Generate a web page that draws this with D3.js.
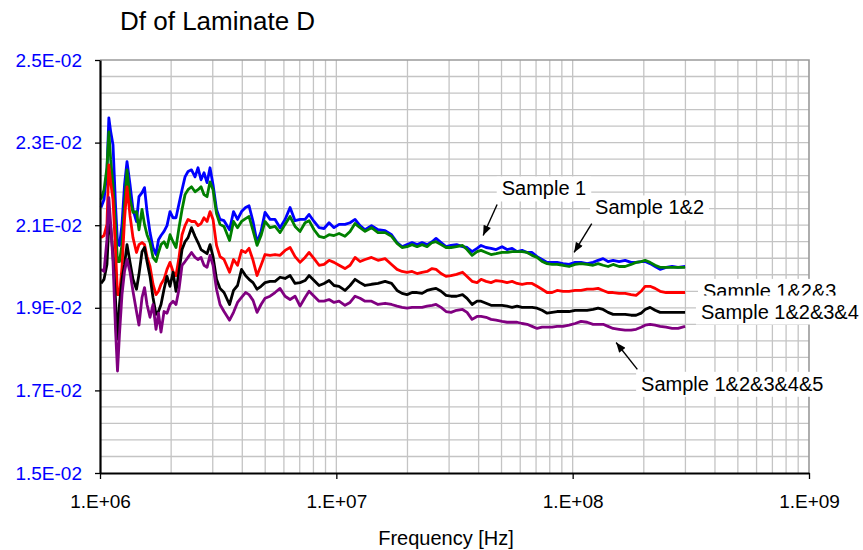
<!DOCTYPE html>
<html>
<head>
<meta charset="utf-8">
<script src="https://cdn.jsdelivr.net/npm/d3@7"></script>
<style>
  html, body { margin: 0; padding: 0; background: #fff; }
  svg { display: block; font-family: "Liberation Sans", Arial, sans-serif; }
</style>
</head>
<body>
<svg id="chart" width="863" height="550"></svg>
<script>
// Measurement frequencies, MHz
const freqMHz = [
  1.01,1.04,1.07,1.09,1.11,1.135,1.163,1.186,1.209,1.239,
  1.27,1.301,1.34,1.379,1.427,1.462,1.506,1.543,1.581,1.628,
  1.676,1.726,1.768,1.812,1.866,1.921,1.978,2.037,2.097,2.159,
  2.224,2.29,2.358,2.439,2.524,2.599,2.676,2.755,2.837,2.921,
  3.008,3.112,3.22,3.348,3.533,3.673,3.819,3.971,4.129,4.272,
  4.442,4.619,4.802,4.993,5.243,5.504,5.779,6.068,6.371,6.689,
  7.023,7.373,7.667,8.049,8.451,8.873,9.316,9.778,10.27,10.88,
  11.43,12.0,12.6,13.23,14.09,15.01,16.08,17.13,18.07,18.97,
  19.92,20.92,21.96,23.06,24.21,25.41,26.42,27.74,29.12,30.58,
  32.26,34.2,35.74,37.52,39.39,40.96,43.01,45.15,47.41,50.27,
  52.78,55.42,58.19,61.1,64.14,67.34,70.7,74.23,77.94,81.83,
  85.92,91.08,96.55,102.4,108.5,115.1,122.0,128.1,134.5,141.2,
  148.3,157.2,166.7,176.7,185.5,194.8,202.5,212.6,223.3,234.4,
  248.5,263.5,279.3,299
];

// Dissipation factor, in units of 1E-02
const dfSample1 = [
  2.143,2.162,2.230,2.360,2.326,2.295,2.150,2.058,2.051,2.102,
  2.198,2.254,2.198,2.138,2.109,2.169,2.179,2.191,2.133,2.082,
  2.046,2.029,2.065,2.075,2.085,2.099,2.133,2.118,2.118,2.152,
  2.186,2.217,2.230,2.234,2.217,2.239,2.210,2.227,2.203,2.239,
  2.198,2.138,2.114,2.111,2.089,2.133,2.114,2.133,2.143,2.147,
  2.109,2.058,2.085,2.131,2.114,2.114,2.094,2.114,2.143,2.111,
  2.114,2.114,2.126,2.109,2.094,2.092,2.106,2.094,2.102,2.102,
  2.106,2.114,2.099,2.089,2.099,2.089,2.087,2.077,2.058,2.048,
  2.053,2.058,2.053,2.058,2.053,2.060,2.068,2.058,2.048,2.051,
  2.053,2.048,2.046,2.036,2.044,2.051,2.046,2.044,2.041,2.048,
  2.041,2.044,2.036,2.039,2.034,2.034,2.024,2.017,2.010,2.010,
  2.010,2.007,2.005,2.010,2.010,2.007,2.010,2.015,2.019,2.012,
  2.015,2.012,2.015,2.010,2.010,2.012,2.012,2.007,2.000,1.993,
  1.998,2.000,1.998,2.000
];
const dfSample12 = [
  2.162,2.186,2.239,2.326,2.258,2.196,2.099,2.012,2.012,2.053,
  2.150,2.234,2.162,2.131,2.133,2.089,2.138,2.102,2.077,2.058,
  2.022,2.012,2.034,2.053,2.060,2.046,2.077,2.060,2.046,2.094,
  2.138,2.174,2.186,2.193,2.181,2.186,2.193,2.174,2.169,2.205,
  2.186,2.128,2.102,2.097,2.063,2.109,2.094,2.109,2.116,2.121,
  2.087,2.051,2.075,2.109,2.094,2.097,2.082,2.102,2.121,2.097,
  2.085,2.106,2.111,2.089,2.073,2.070,2.077,2.075,2.080,2.073,
  2.085,2.104,2.094,2.085,2.094,2.082,2.082,2.073,2.056,2.046,
  2.048,2.053,2.048,2.053,2.048,2.058,2.060,2.053,2.046,2.046,
  2.048,2.051,2.041,2.027,2.036,2.039,2.034,2.029,2.031,2.034,
  2.034,2.036,2.036,2.036,2.034,2.027,2.022,2.012,2.007,2.005,
  2.005,2.003,2.000,2.005,2.007,2.005,2.003,2.007,2.003,2.000,
  2.005,2.000,2.000,2.005,2.010,2.012,2.015,2.010,2.003,1.998,
  1.998,1.998,1.998,1.998
];
const dfSample123 = [
  2.070,2.075,2.102,2.246,2.203,2.162,2.041,1.932,1.932,1.998,
  2.114,2.193,2.123,2.070,2.034,2.053,2.058,2.053,2.024,2.000,
  1.957,1.932,1.940,1.957,1.969,1.993,2.010,1.988,1.978,2.022,
  2.077,2.099,2.114,2.109,2.109,2.099,2.104,2.118,2.109,2.133,
  2.114,2.051,2.024,2.017,1.986,2.017,2.003,2.039,2.034,2.044,
  2.015,1.978,2.003,2.029,2.027,2.029,2.027,2.039,2.046,2.024,
  2.010,2.022,2.034,2.019,2.003,2.005,2.015,2.010,2.003,1.995,
  2.003,2.022,2.012,2.017,2.022,2.015,2.019,2.005,1.993,1.988,
  1.986,1.988,1.983,1.986,1.988,1.995,1.993,1.983,1.976,1.978,
  1.981,1.986,1.976,1.964,1.961,1.969,1.964,1.961,1.966,1.964,
  1.961,1.964,1.959,1.957,1.959,1.959,1.952,1.945,1.937,1.937,
  1.942,1.940,1.940,1.942,1.942,1.945,1.945,1.947,1.942,1.937,
  1.937,1.935,1.935,1.932,1.930,1.940,1.952,1.952,1.947,1.940,
  1.937,1.937,1.937,1.937
];
const dfSample1234 = [
  1.959,1.969,2.005,2.102,2.094,2.029,1.920,1.824,1.908,1.969,
  2.005,2.053,2.010,1.969,1.945,1.981,2.036,2.046,2.012,1.976,
  1.925,1.884,1.891,1.908,1.945,1.976,1.952,1.986,1.940,1.988,
  2.041,2.060,2.070,2.094,2.073,2.058,2.041,2.036,2.031,2.053,
  2.024,1.969,1.947,1.937,1.908,1.942,1.954,1.993,1.978,1.969,
  1.961,1.945,1.952,1.961,1.964,1.964,1.974,1.971,1.978,1.959,
  1.961,1.966,1.978,1.966,1.954,1.959,1.966,1.954,1.952,1.942,
  1.954,1.969,1.961,1.954,1.957,1.959,1.964,1.959,1.942,1.935,
  1.932,1.937,1.937,1.935,1.942,1.945,1.947,1.940,1.930,1.928,
  1.928,1.932,1.923,1.908,1.916,1.916,1.911,1.906,1.906,1.906,
  1.904,1.901,1.904,1.901,1.901,1.901,1.899,1.894,1.887,1.889,
  1.891,1.891,1.891,1.894,1.894,1.894,1.896,1.899,1.896,1.889,
  1.884,1.884,1.884,1.882,1.882,1.887,1.896,1.901,1.894,1.889,
  1.889,1.889,1.889,1.889
];
const dfSample12345 = [
  1.993,1.988,2.065,2.167,2.102,2.012,1.848,1.747,1.836,1.932,
  1.988,2.017,1.986,1.940,1.891,1.858,1.925,1.949,1.908,1.877,
  1.908,1.848,1.887,1.841,1.891,1.887,1.908,1.916,1.908,1.945,
  2.003,2.012,2.022,2.034,2.022,2.017,2.022,2.003,1.998,2.027,
  2.003,1.945,1.908,1.891,1.870,1.889,1.913,1.925,1.937,1.932,
  1.918,1.889,1.908,1.923,1.928,1.937,1.947,1.928,1.920,1.928,
  1.904,1.925,1.940,1.928,1.916,1.916,1.920,1.913,1.916,1.906,
  1.913,1.928,1.923,1.916,1.916,1.908,1.911,1.908,1.904,1.901,
  1.899,1.901,1.901,1.901,1.904,1.906,1.908,1.901,1.891,1.889,
  1.894,1.896,1.889,1.872,1.879,1.879,1.877,1.872,1.870,1.867,
  1.865,1.865,1.865,1.862,1.860,1.855,1.850,1.853,1.853,1.853,
  1.855,1.855,1.858,1.862,1.867,1.865,1.860,1.860,1.860,1.855,
  1.850,1.848,1.846,1.846,1.848,1.853,1.858,1.860,1.858,1.855,
  1.853,1.850,1.850,1.855
];

const seriesNames = ["Sample 1", "Sample 1&2", "Sample 1&2&3", "Sample 1&2&3&4", "Sample 1&2&3&4&5"];
const seriesValues = [dfSample1, dfSample12, dfSample123, dfSample1234, dfSample12345];
const seriesColors = ["#0000ff", "#008000", "#ff0000", "#000000", "#800080"];

const xTickValues = [1e6, 1e7, 1e8, 1e9];
const xTickLabels = ["1.E+06", "1.E+07", "1.E+08", "1.E+09"];
const yTickValues = [0.015, 0.017, 0.019, 0.021, 0.023, 0.025];
const yTickLabels = ["1.5E-02", "1.7E-02", "1.9E-02", "2.1E-02", "2.3E-02", "2.5E-02"];

const DF_UNIT = 1e-2;
const MHZ = 1e6;

// Callout labels: text anchor and optional arrow (tail -> head), in MHz / 1E-02 units
const callouts = [
  { text: "Sample 1",         at: [50.1, 2.172],  arrow: [[47.9, 2.150], [41.8, 2.075]] },
  { text: "Sample 1&2",       at: [124.4, 2.126], arrow: [[120.4, 2.104], [101.4, 2.034]] },
  { text: "Sample 1&2&3",     at: [356, 1.924],   arrow: null },
  { text: "Sample 1&2&3&4",   at: [349, 1.874],   arrow: null, padTop: 5 },
  { text: "Sample 1&2&3&4&5", at: [194.8, 1.699], arrow: [[187.8, 1.751], [152.7, 1.816]] }
];

const svg = d3.select("#chart");
const plot = { left: 100, right: 809, top: 60, bottom: 473 };

const x = d3.scaleLog().domain([1e6, 1e9]).range([plot.left, plot.right]);
const y = d3.scaleLinear().domain([0.015, 0.025]).range([plot.bottom, plot.top]);

// Title
svg.append("text")
  .attr("x", 120).attr("y", 30)
  .attr("font-size", 26)
  .attr("fill", "#000")
  .text("Df of Laminate D");

// Grid
const grid = svg.append("g").attr("stroke", "#c4c4c4").attr("stroke-width", 1.3);
grid.selectAll("line.v")
  .data(x.ticks().filter(d => d > 1e6 && d < 1e9))
  .join("line")
  .attr("x1", d => x(d)).attr("x2", d => x(d))
  .attr("y1", plot.top).attr("y2", plot.bottom);
const hGrid = d3.range(1, 25).map(i => 0.015 + i * 0.0004);
grid.selectAll("line.h")
  .data(hGrid)
  .join("line")
  .attr("x1", plot.left).attr("x2", plot.right)
  .attr("y1", d => y(d)).attr("y2", d => y(d));

// Top and right frame
svg.append("path")
  .attr("d", `M${plot.left},${plot.top}H${plot.right}V${plot.bottom}`)
  .attr("fill", "none").attr("stroke", "#9a9a9a").attr("stroke-width", 1.6);

// Series
const line = d3.line()
  .x((d, i) => x(freqMHz[i] * MHZ))
  .y(d => y(d * DF_UNIT));
svg.append("g")
  .selectAll("path")
  .data(seriesValues)
  .join("path")
  .attr("fill", "none")
  .attr("stroke", (d, i) => seriesColors[i])
  .attr("stroke-width", 2.8)
  .attr("stroke-linejoin", "round")
  .attr("d", line);

// Axes
const yAxis = svg.append("g")
  .attr("transform", `translate(${plot.left},0)`)
  .call(d3.axisLeft(y).tickValues(yTickValues)
    .tickFormat((d, i) => yTickLabels[i]).tickSize(5).tickSizeOuter(0).tickPadding(13));
yAxis.select(".domain").attr("stroke", "#000").attr("stroke-width", 2.2);
yAxis.selectAll(".tick line").attr("stroke", "#000").attr("stroke-width", 1.3);
yAxis.selectAll(".tick text")
  .attr("font-size", 19).attr("fill", "#0000ff")
  .attr("font-family", "Liberation Sans, Arial, sans-serif");

const xAxis = svg.append("g")
  .attr("transform", `translate(0,${plot.bottom})`)
  .call(d3.axisBottom(x).tickValues(xTickValues)
    .tickFormat((d, i) => xTickLabels[i]).tickSize(6).tickSizeOuter(0).tickPadding(16));
xAxis.select(".domain").attr("stroke", "#000").attr("stroke-width", 2.2);
xAxis.selectAll(".tick line").attr("stroke", "#000").attr("stroke-width", 1.3);
xAxis.selectAll(".tick text")
  .attr("font-size", 19).attr("fill", "#000")
  .attr("font-family", "Liberation Sans, Arial, sans-serif");

svg.append("text")
  .attr("x", 446).attr("y", 545)
  .attr("text-anchor", "middle")
  .attr("font-size", 20)
  .text("Frequency [Hz]");

// Callouts
const defs = svg.append("defs");
defs.append("marker")
  .attr("id", "arrowHead")
  .attr("viewBox", "0 0 10 8")
  .attr("refX", 10).attr("refY", 4)
  .attr("markerWidth", 11).attr("markerHeight", 8)
  .attr("markerUnits", "userSpaceOnUse")
  .attr("orient", "auto")
  .append("path").attr("d", "M0,0L10,4L0,8Z").attr("fill", "#000");

const calloutLayer = svg.append("g");
callouts.forEach(c => {
  const g = calloutLayer.append("g");
  const rect = g.append("rect").attr("fill", "#fff");
  const t = g.append("text")
    .attr("x", x(c.at[0] * MHZ)).attr("y", y(c.at[1] * DF_UNIT))
    .attr("font-size", 20).attr("fill", "#000")
    .text(c.text);
  const bb = t.node().getBBox();
  const padTop = c.padTop || 1;
  rect.attr("x", bb.x - 5).attr("y", bb.y - padTop)
    .attr("width", bb.width + 10).attr("height", bb.height + padTop + 2);
  if (c.arrow) {
    g.append("line")
      .attr("x1", x(c.arrow[0][0] * MHZ)).attr("y1", y(c.arrow[0][1] * DF_UNIT))
      .attr("x2", x(c.arrow[1][0] * MHZ)).attr("y2", y(c.arrow[1][1] * DF_UNIT))
      .attr("stroke", "#000").attr("stroke-width", 1.4)
      .attr("marker-end", "url(#arrowHead)");
  }
});
</script>
</body>
</html>
